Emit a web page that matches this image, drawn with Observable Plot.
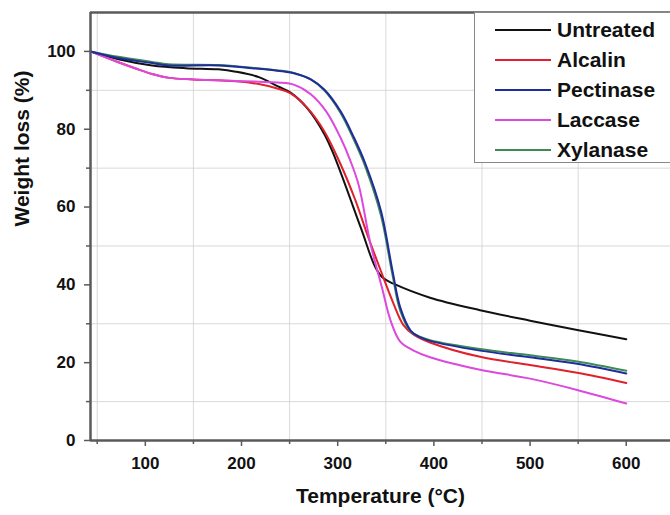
<!DOCTYPE html>
<html>
<head>
<meta charset="utf-8">
<script src="https://cdn.jsdelivr.net/npm/d3@7"></script>
<script src="https://cdn.jsdelivr.net/npm/@observablehq/plot@0.6"></script>
<style>
  html, body { margin: 0; padding: 0; background: #fff; }
  #wrap { position: relative; width: 670px; height: 515px; overflow: hidden; font-family: "Liberation Sans", Arial, sans-serif; }
  #legend { position: absolute; left: 474px; top: 12px; width: 210px; height: 151px; border: 1px solid #888; background: #fff; box-sizing: border-box; }
  .item { position: absolute; left: 20px; height: 30px; display: flex; align-items: center; }
  .sw { width: 56px; height: 0; border-top: 2px solid; margin-right: 6px; }
  .lab { font-weight: bold; font-size: 21px; color: #111; }
</style>
</head>
<body>
<div id="wrap"></div>
<script>
// ---- Data ----
const seriesNames = ["Untreated", "Alcalin", "Pectinase", "Laccase", "Xylanase"];
const seriesColors = ["#111111", "#e0202c", "#1f2c9c", "#dd48dd", "#3d8a55"];
const drawOrder = ["Untreated", "Alcalin", "Laccase", "Xylanase", "Pectinase"];

const untreatedT = [43, 72, 107, 142, 176, 194, 218, 238, 251, 268, 286, 296, 324, 339, 347, 358, 396, 448, 500, 549, 600];
const untreatedW = [100, 98, 96.4, 95.7, 95.4, 94.8, 93.4, 91, 89.4, 85.5, 78.8, 73.4, 54.7, 44.6, 41.8, 40.3, 36.7, 33.5, 30.8, 28.4, 26];

const alcalinT = [43, 72, 90, 107, 125, 150, 194, 218, 238, 251, 268, 286, 303, 318, 331, 345, 358, 368, 379, 396, 448, 500, 549, 600];
const alcalinW = [100, 97.2, 95.6, 94.2, 93.2, 92.8, 92.3, 91.6, 90.4, 89.2, 85.6, 79.5, 71, 62, 52.8, 43.5, 35.2, 29.8, 27.2, 25.2, 21.5, 19.4, 17.4, 14.8];

const pectinaseT = [43, 72, 107, 124, 176, 211, 242, 257, 272, 286, 303, 317, 329, 345, 357, 365, 376, 386, 396, 448, 500, 549, 600];
const pectinaseW = [100, 98.3, 97, 96.4, 96.4, 95.7, 94.9, 94.2, 92.8, 90.2, 84.6, 77.8, 71, 59, 43.6, 34.2, 28.2, 26.5, 25.6, 23.1, 21.4, 19.7, 17.2];

const laccaseT = [43, 72, 90, 107, 125, 150, 194, 218, 238, 255, 272, 288, 303, 313, 322, 334, 346, 355, 365, 379, 396, 448, 500, 549, 600];
const laccaseW = [100, 97.2, 95.6, 94.2, 93.2, 92.8, 92.4, 92.2, 92, 91.4, 89, 84.6, 77.8, 72, 65.5, 50.6, 39.3, 30.8, 25.4, 23.1, 21.4, 18.2, 15.9, 13, 9.5];

const xylanaseT = [43, 72, 107, 124, 176, 211, 242, 257, 272, 286, 303, 317, 329, 345, 357, 365, 376, 386, 396, 448, 500, 549, 600];
const xylanaseW = [100, 98.6, 97.3, 96.7, 96.5, 95.8, 95, 94.3, 92.8, 90, 84.2, 77.2, 70.2, 57.8, 42.5, 33.4, 28, 26.6, 25.8, 23.5, 21.9, 20.3, 17.9];

const xMajor = [100, 200, 300, 400, 500, 600];
const xMinor = [50, 150, 250, 350, 450, 550];
const yMajor = [0, 20, 40, 60, 80, 100];
const yMinor = [10, 30, 50, 70, 90];
const xLabel = "Temperature (°C)";
const yLabel = "Weight loss (%)";

// ---- Build table ----
const raw = {
  Untreated: [untreatedT, untreatedW],
  Alcalin: [alcalinT, alcalinW],
  Pectinase: [pectinaseT, pectinaseW],
  Laccase: [laccaseT, laccaseW],
  Xylanase: [xylanaseT, xylanaseW]
};
const rows = [];
for (const name of drawOrder) {
  const [T, W] = raw[name];
  T.forEach((t, i) => rows.push({series: name, t, w: W[i]}));
}

const axisColor = "#5a5a5a";
const font = '"Liberation Sans", Arial, sans-serif';

const chart = Plot.plot({
  width: 670,
  height: 515,
  marginLeft: 90,
  marginRight: 0,
  marginTop: 12,
  marginBottom: 75,
  style: {fontFamily: font, background: "#fff", overflow: "visible"},
  x: {domain: [43, 646]},
  y: {domain: [0, 110]},
  color: {domain: seriesNames, range: seriesColors},
  marks: [
    Plot.gridX(xMinor, {stroke: "#cfcfcf", strokeOpacity: 0.8, strokeWidth: 1}),
    Plot.gridY(yMinor, {stroke: "#cfcfcf", strokeOpacity: 0.8, strokeWidth: 1}),
    Plot.line(rows, {x: "t", y: "w", z: "series", stroke: "series", strokeWidth: 2, curve: "catmull-rom"}),
    Plot.ruleY([110], {stroke: axisColor, strokeWidth: 2.5}),
    Plot.ruleY([0], {stroke: axisColor, strokeWidth: 2.5}),
    Plot.ruleX([43], {stroke: axisColor, strokeWidth: 2.5}),
    Plot.axisX(xMajor, {tickSize: 6, tickPadding: 10, tickFormat: d => String(d), fontSize: 17, fontWeight: "bold", stroke: axisColor, strokeWidth: 1.5, label: null, fill: "#111"}),
    Plot.axisX(xMinor, {tickSize: 4, tickFormat: () => "", stroke: axisColor, strokeWidth: 1.5, label: null}),
    Plot.axisY(yMajor, {tickSize: 6, tickPadding: 9, tickFormat: d => String(d), fontSize: 17, fontWeight: "bold", stroke: axisColor, strokeWidth: 1.5, label: null, fill: "#111"}),
    Plot.axisY(yMinor, {tickSize: 4, tickFormat: () => "", stroke: axisColor, strokeWidth: 1.5, label: null}),
    Plot.text([xLabel], {frameAnchor: "bottom", dy: 62, fontSize: 21, fontWeight: "bold", fill: "#111"}),
    Plot.text([yLabel], {frameAnchor: "left", dx: -68, rotate: -90, fontSize: 21, fontWeight: "bold", fill: "#111"})
  ]
});

const wrap = document.getElementById("wrap");
wrap.appendChild(chart);

// Legend
const legend = document.createElement("div");
legend.id = "legend";
seriesNames.forEach((name, i) => {
  const item = document.createElement("div");
  item.className = "item";
  item.style.top = (2 + i * 30) + "px";
  const sw = document.createElement("span");
  sw.className = "sw";
  sw.style.borderTopColor = seriesColors[i];
  const lab = document.createElement("span");
  lab.className = "lab";
  lab.textContent = name;
  item.appendChild(sw);
  item.appendChild(lab);
  legend.appendChild(item);
});
wrap.appendChild(legend);
</script>
</body>
</html>
